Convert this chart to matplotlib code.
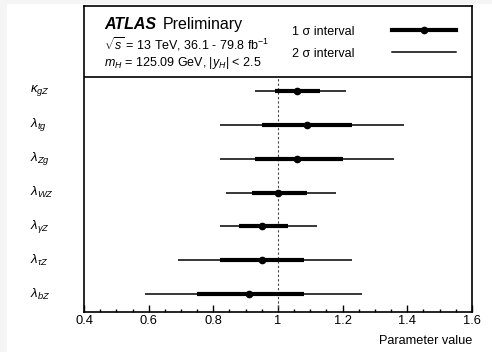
import numpy as np
import matplotlib
matplotlib.use("Agg")
import matplotlib.pyplot as plt
from matplotlib.patches import Rectangle
from matplotlib.ticker import MultipleLocator

plt.rcParams["font.family"] = ["Liberation Sans", "DejaVu Sans"]
plt.rcParams["mathtext.fontset"] = "custom"
plt.rcParams["mathtext.rm"] = "Liberation Sans"
plt.rcParams["mathtext.it"] = "Liberation Sans:italic"
plt.rcParams["mathtext.bf"] = "Liberation Sans:bold"

# parameters, top to bottom
labels = [r"$\kappa_{gZ}$", r"$\lambda_{tg}$", r"$\lambda_{Zg}$", r"$\lambda_{WZ}$",
          r"$\lambda_{\gamma Z}$", r"$\lambda_{\tau Z}$", r"$\lambda_{bZ}$"]
central = [1.06, 1.09, 1.06, 1.00, 0.95, 0.95, 0.91]
sig1_lo = [0.99, 0.95, 0.93, 0.92, 0.88, 0.82, 0.75]
sig1_hi = [1.13, 1.23, 1.20, 1.09, 1.03, 1.08, 1.08]
sig2_lo = [0.93, 0.82, 0.82, 0.84, 0.82, 0.69, 0.59]
sig2_hi = [1.21, 1.39, 1.36, 1.18, 1.12, 1.23, 1.26]

fig = plt.figure(figsize=(4.92, 3.52), dpi=100, facecolor="#f5f5f5")
fig.patches.append(Rectangle((7 / 492, 0), 1, 1 - 4 / 352, transform=fig.transFigure,
                             facecolor="white", edgecolor="none", zorder=-1))
ax = fig.add_axes([84 / 492, 40 / 352, 388 / 492, 306 / 352])

n = len(labels)
ypos = np.arange(n)[::-1]
sep = 6.41

ax.hlines(ypos, sig2_lo, sig2_hi, color="black", lw=1.1, zorder=3)
ax.hlines(ypos, sig1_lo, sig1_hi, color="black", lw=3.0, zorder=4)
ax.plot(central, ypos, "o", color="black", ms=4.5, zorder=5)

ax.plot([1, 1], [-0.53, sep], ls=(0, (2, 2)), color="#444444", lw=0.8, zorder=2)
ax.axhline(sep, color="black", lw=1.2)

for y, lab in zip(ypos, labels):
    ax.text(-0.14, y, lab, transform=ax.get_yaxis_transform(), ha="left", va="center",
            fontsize=9.5)

ax.set_xlim(0.4, 1.6)
ax.set_ylim(-0.53, 8.51)
ax.xaxis.set_minor_locator(MultipleLocator(0.05))
ax.set_xticks(np.arange(0.4, 1.61, 0.2))
ax.set_xticklabels(["0.4", "0.6", "0.8", "1", "1.2", "1.4", "1.6"])
ax.tick_params(axis="x", which="major", direction="in", length=5, width=1, labelsize=9.3, pad=2)
ax.tick_params(axis="x", which="minor", direction="in", length=2.5, width=1)
ax.set_yticks([])
for s in ax.spines.values():
    s.set_linewidth(1.2)

ax.text(1.0, -0.075, "Parameter value", transform=ax.transAxes, ha="right", va="top",
        fontsize=9.2)

# header / legend block
tx = ax.transAxes
ax.text(0.052, 0.938, "ATLAS", transform=tx, fontsize=11.5, fontweight="bold",
        fontstyle="italic", ha="left", va="center")
ax.text(0.204, 0.938, "Preliminary", transform=tx, fontsize=11.5, ha="left", va="center")
ax.text(0.052, 0.876, r"$\sqrt{s}$ = 13 TeV, 36.1 - 79.8 fb$^{-1}$", transform=tx,
        fontsize=9, ha="left", va="center")
ax.text(0.052, 0.814, r"$m_{H}$ = 125.09 GeV, $|y_{H}|$ < 2.5", transform=tx,
        fontsize=9, ha="left", va="center")

ax.text(0.536, 0.915, "1 σ interval", transform=tx, fontsize=9, ha="left", va="center")
ax.text(0.536, 0.843, "2 σ interval", transform=tx, fontsize=9, ha="left", va="center")
ax.plot([0.794, 0.959], [0.922, 0.922], transform=tx, color="black", lw=3.0)
ax.plot([0.876], [0.922], "o", transform=tx, color="black", ms=4.5)
ax.plot([0.794, 0.959], [0.850, 0.850], transform=tx, color="black", lw=1.1)

fig.savefig("out.png", dpi=100, facecolor=fig.get_facecolor())
